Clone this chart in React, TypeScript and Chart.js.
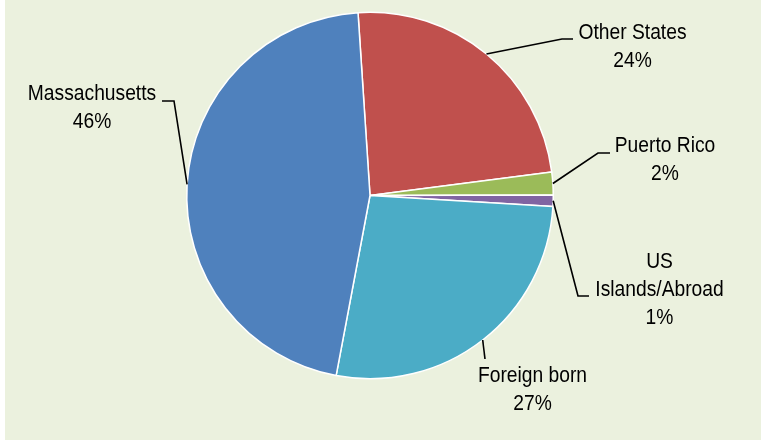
import React, { useEffect, useRef } from "react";
import { Chart, registerables } from "chart.js";

Chart.register(...registerables);

const categories = ["Other States", "Puerto Rico", "US Islands/Abroad", "Foreign born", "Massachusetts"];
const nameLines = [["Other States"], ["Puerto Rico"], ["US", "Islands/Abroad"], ["Foreign born"], ["Massachusetts"]];
const shares = [24, 2, 1, 27, 46];
const colors = ["#C0504D", "#9BBB59", "#8064A2", "#4BACC6", "#4F81BD"];

// label layout relative to pie centre: text centre x, first baseline y, leader elbow and end
const labelLayout = [
  { tx: 262.5, ty: -156.5, elbow: [192, -156.5], end: [203, -156.5] },
  { tx: 295, ty: -43.5, elbow: [228, -42.5], end: [240, -42.5] },
  { tx: 289.5, ty: 72.5, elbow: [208, 100.5], end: [219, 100.5] },
  { tx: 162.5, ty: 186.5, elbow: [115, 163.5], end: null },
  { tx: -278, ty: -95.5, elbow: [-196, -94.5], end: [-208, -94.5] },
];

const labelPlugin = {
  id: "pieLabels",
  afterDraw(chart: any) {
    const ctx = chart.ctx;
    const meta = chart.getDatasetMeta(0);
    ctx.save();
    meta.data.forEach((arc: any, i: number) => {
      const { x, y, startAngle, endAngle, outerRadius } = arc.getProps(
        ["x", "y", "startAngle", "endAngle", "outerRadius"],
        true
      );
      const mid = (startAngle + endAngle) / 2;
      const ax = x + Math.cos(mid) * outerRadius;
      const ay = y + Math.sin(mid) * outerRadius;
      const L = labelLayout[i];
      ctx.strokeStyle = "#000";
      ctx.lineWidth = 1.6;
      ctx.beginPath();
      ctx.moveTo(ax, ay);
      ctx.lineTo(x + L.elbow[0], y + L.elbow[1]);
      if (L.end) ctx.lineTo(x + L.end[0], y + L.end[1]);
      ctx.stroke();

      const lines = [...nameLines[i], `${shares[i]}%`];
      ctx.fillStyle = "#000";
      ctx.font = '22px "Liberation Sans", Arial, sans-serif';
      ctx.textAlign = "center";
      ctx.textBaseline = "alphabetic";
      const sx = 0.875;
      lines.forEach((t, k) => {
        ctx.save();
        ctx.translate(x + L.tx, y + L.ty + k * 27.8);
        ctx.scale(sx, 1);
        ctx.fillText(t, 0, 0);
        ctx.restore();
      });
    });
    ctx.restore();
  },
};

export default function App() {
  const ref = useRef<HTMLCanvasElement>(null);
  useEffect(() => {
    document.body.style.margin = "0";
    const chart = new Chart(ref.current!, {
      type: "pie",
      data: {
        labels: categories,
        datasets: [
          {
            data: shares,
            backgroundColor: colors,
            borderColor: "#FFFFFF",
            borderWidth: 1.5,
          },
        ],
      },
      options: {
        responsive: false,
        animation: false,
        devicePixelRatio: 1,
        rotation: -3.75,
        layout: { padding: { left: 181, right: 207, top: 11.5, bottom: 60.5 } },
        plugins: { legend: { display: false }, tooltip: { enabled: false } },
      },
      plugins: [labelPlugin],
    });
    return () => chart.destroy();
  }, []);
  return (
    <div style={{ position: "relative", width: 761, height: 441, background: "#FFFFFF" }}>
      <canvas
        ref={ref}
        width={756}
        height={440}
        style={{ position: "absolute", left: 5, top: 0, width: 756, height: 440, background: "#EBF1DE" }}
      />
    </div>
  );
}
